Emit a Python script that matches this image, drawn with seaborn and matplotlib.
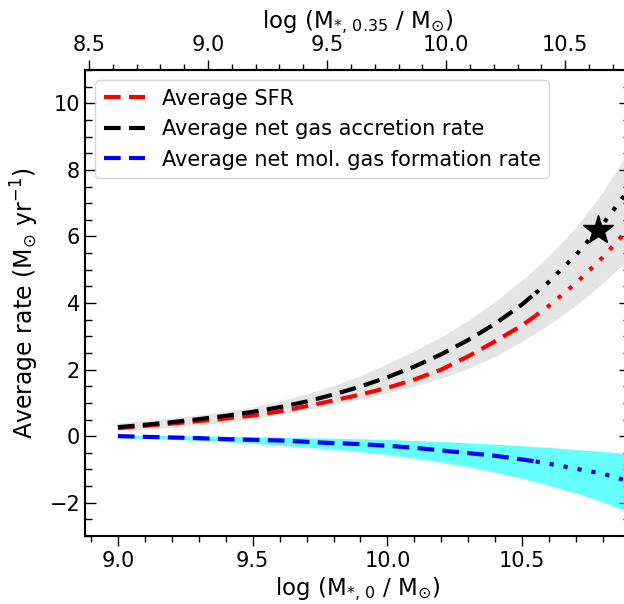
import numpy as np
import pandas as pd
import matplotlib
matplotlib.use("Agg")
import matplotlib.pyplot as plt
from matplotlib.ticker import MultipleLocator, FormatStrFormatter, FixedLocator
from matplotlib.lines import Line2D
import seaborn as sns

# ---- data ----
logm0 = [9.0, 9.1, 9.2, 9.3, 9.4, 9.5, 9.6, 9.7, 9.8, 9.9, 10.0,
         10.1, 10.2, 10.3, 10.4, 10.5, 10.55, 10.6, 10.7, 10.8, 10.9]
sfr = [0.24, 0.31, 0.38, 0.45, 0.53, 0.62, 0.74, 0.90, 1.07, 1.25, 1.45,
       1.70, 2.00, 2.40, 2.85, 3.33, 3.62, 3.92, 4.60, 5.38, 6.28]
accretion = [0.27, 0.34, 0.42, 0.51, 0.61, 0.73, 0.87, 1.04, 1.25, 1.49, 1.77,
             2.09, 2.46, 2.89, 3.38, 3.96, 4.30, 4.64, 5.45, 6.38, 7.45]
acc_upper = [0.40, 0.47, 0.55, 0.64, 0.75, 0.88, 1.06, 1.27, 1.52, 1.82, 2.18,
             2.56, 2.99, 3.48, 4.05, 4.70, 5.05, 5.43, 6.28, 7.35, 8.65]
acc_lower = [0.16, 0.21, 0.27, 0.34, 0.42, 0.52, 0.66, 0.80, 0.95, 1.12, 1.30,
             1.50, 1.74, 2.03, 2.40, 2.85, 3.09, 3.35, 3.93, 4.60, 5.35]
molgas = [0.0, -0.02, -0.04, -0.06, -0.09, -0.11, -0.13, -0.17, -0.21, -0.24, -0.29,
          -0.35, -0.43, -0.51, -0.59, -0.70, -0.76, -0.83, -0.98, -1.13, -1.37]
mol_upper = [0.04, 0.03, 0.02, 0.01, 0.0, -0.015, -0.03, -0.045, -0.06, -0.08, -0.10,
             -0.13, -0.16, -0.20, -0.24, -0.29, -0.315, -0.34, -0.40, -0.46, -0.53]
mol_lower = [-0.05, -0.07, -0.10, -0.13, -0.17, -0.22, -0.27, -0.33, -0.40, -0.47, -0.55,
             -0.66, -0.78, -0.92, -1.08, -1.27, -1.37, -1.48, -1.71, -1.98, -2.30]
split_at = 10.55
star_x = [10.78]
star_y = [6.2]
top_ticks = [8.5, 9.0, 9.5, 10.0, 10.5]
bottom_ticks = [9.0, 9.5, 10.0, 10.5]

labels = ["Average SFR", "Average net gas accretion rate",
          "Average net mol. gas formation rate"]

sns.set_style("ticks")
plt.rcParams.update({
    "font.family": ["DejaVu Sans"],
    "text.color": "black", "axes.labelcolor": "black",
    "xtick.color": "black", "ytick.color": "black",
    "axes.edgecolor": "black",
})

df = pd.DataFrame({"x": logm0, "sfr": sfr, "acc": accretion, "mol": molgas,
                   "acc_lo": acc_lower, "acc_hi": acc_upper,
                   "mol_lo": mol_lower, "mol_hi": mol_upper})
dash_part = df[df["x"] <= split_at]
dot_part = df[df["x"] >= split_at]

fig = plt.figure(figsize=(6.24, 6.04), dpi=100)
ax = fig.add_axes([85 / 624, 68 / 604, 545 / 624, 466 / 604])

ax.fill_between(df["x"], df["acc_lo"], df["acc_hi"], color="gray", alpha=0.2, lw=0)
ax.fill_between(df["x"], df["mol_lo"], df["mol_hi"], color="cyan", alpha=0.6, lw=0)

lw = 3
dashed = (0, (4, 2))
dotted = (0, (1, 2.4))
for col, color in [("sfr", "red"), ("acc", "black"), ("mol", "blue")]:
    sns.lineplot(data=dash_part, x="x", y=col, ax=ax, color=color, lw=lw,
                 linestyle=dashed, estimator=None, sort=False)
    sns.lineplot(data=dot_part, x="x", y=col, ax=ax, color=color, lw=lw,
                 linestyle=dotted, estimator=None, sort=False)

ax.plot(star_x, star_y, marker="*", color="black", markersize=22, ls="none")

ax.set_xlim(8.878, 10.9)
ax.set_ylim(-3, 11)
ax.xaxis.set_major_locator(FixedLocator(bottom_ticks))
ax.xaxis.set_minor_locator(MultipleLocator(0.1))
ax.yaxis.set_major_locator(MultipleLocator(2))
ax.yaxis.set_minor_locator(MultipleLocator(0.5))
ax.xaxis.set_major_formatter(FormatStrFormatter("%.1f"))

fs = 15
lfs = 16.5
ax.set_xlabel(r"log (M$_{*,\,0}$ / M$_{\odot}$)", fontsize=lfs, labelpad=3)
ax.set_ylabel(r"Average rate (M$_{\odot}$ yr$^{-1}$)", fontsize=17, labelpad=6)
ax.tick_params(axis="y", which="both", direction="in", right=True, labelsize=fs, width=1)
ax.tick_params(axis="y", which="major", length=8)
ax.tick_params(axis="y", which="minor", length=5)
ax.tick_params(axis="x", which="both", direction="out", labelsize=fs, width=1)
ax.tick_params(axis="x", which="major", length=7)
ax.tick_params(axis="x", which="minor", length=4)
for s in ax.spines.values():
    s.set_linewidth(1.5)
    s.set_visible(True)

def fwd(v):
    return 8.5 + 1.1316 * (np.asarray(v) - 8.8926)

def inv(u):
    return 8.8926 + (np.asarray(u) - 8.5) / 1.1316

sec = ax.secondary_xaxis("top", functions=(fwd, inv))
sec.xaxis.set_major_locator(FixedLocator(top_ticks))
sec.xaxis.set_minor_locator(MultipleLocator(0.1))
sec.xaxis.set_major_formatter(FormatStrFormatter("%.1f"))
sec.tick_params(which="both", direction="out", labelsize=fs, width=1)
sec.tick_params(which="major", length=7)
sec.tick_params(which="minor", length=4)
sec.set_xlabel(r"log (M$_{*,\,0.35}$ / M$_{\odot}$)", fontsize=lfs, labelpad=5)
sec.spines["top"].set_linewidth(1.5)

handles = [Line2D([], [], color=c, lw=lw, linestyle=dashed) for c in ["red", "black", "blue"]]
ax.legend(handles, labels, loc="upper left", fontsize=15, frameon=True, fancybox=True,
          framealpha=0.8, edgecolor="0.8")

fig.savefig("out.png", dpi=100)
